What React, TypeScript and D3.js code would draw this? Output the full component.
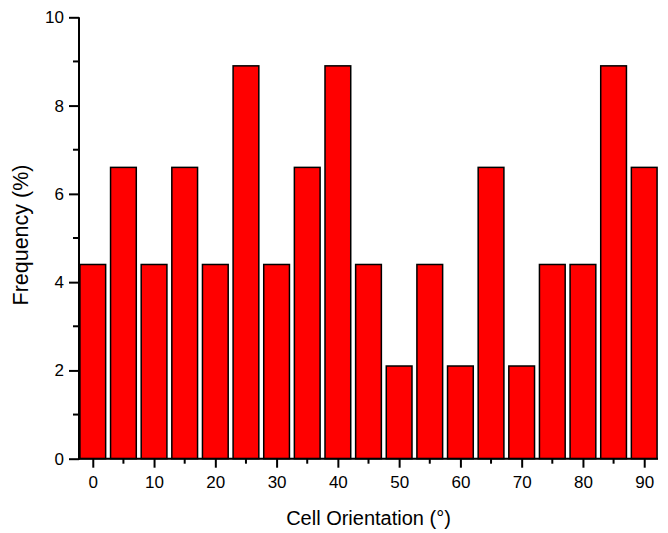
import React, { useRef, useEffect } from 'react';
import * as d3 from 'd3';

// cell orientation bins (degrees) and their frequency (%)
const angles = [0, 5, 10, 15, 20, 25, 30, 35, 40, 45, 50, 55, 60, 65, 70, 75, 80, 85, 90];
const frequency = [4.4, 6.6, 4.4, 6.6, 4.4, 8.9, 4.4, 6.6, 8.9, 4.4, 2.1, 4.4, 2.1, 6.6, 2.1, 4.4, 4.4, 8.9, 6.6];
const xTicks = [0, 10, 20, 30, 40, 50, 60, 70, 80, 90];
const yTicks = [0, 2, 4, 6, 8, 10];

function App() {
  const svgRef = useRef<SVGSVGElement>(null);
  const width = 668;
  const height = 533;

  useEffect(() => {
    const root = d3.select(svgRef.current);
    root.selectAll('*').remove();

    const left = 79;
    const right = 658;
    const top = 17.3;
    const bottom = 458.7;
    const font = 'Liberation Sans, Arial, sans-serif';

    const x = d3.scaleLinear().domain([-2.25, 92.25]).range([left, right]);
    const y = d3.scaleLinear().domain([0, 10]).range([bottom, top]);
    const barW = x(4.2) - x(0);

    const data = angles.map((a, i) => ({ a, v: frequency[i] }));

    // bars
    root.append('g')
      .selectAll('rect')
      .data(data)
      .enter()
      .append('rect')
      .attr('x', d => x(d.a) - barW / 2)
      .attr('y', d => y(d.v))
      .attr('width', barW)
      .attr('height', d => bottom - y(d.v))
      .attr('fill', '#ff0000')
      .attr('stroke', '#000')
      .attr('stroke-width', 1.5);

    // x axis
    const xAxis = root.append('g').attr('transform', `translate(0,${bottom})`);
    xAxis.call(
      d3.axisBottom(x).tickValues(xTicks).tickSize(9).tickPadding(8).tickFormat(d3.format('d'))
    );
    xAxis.select('.domain').attr('d', `M${left},0H${right}`).attr('stroke-width', 2);
    xAxis.selectAll('.tick line').attr('stroke-width', 2);
    xAxis.selectAll('.tick text').style('font-family', font).style('font-size', '17px').attr('fill', '#000');
    xAxis.selectAll('.minor')
      .data(xTicks.slice(0, -1).map(t => t + 5))
      .enter()
      .append('line')
      .attr('class', 'minor')
      .attr('x1', d => x(d)).attr('x2', d => x(d))
      .attr('y1', 0).attr('y2', 5)
      .attr('stroke', '#000').attr('stroke-width', 2);

    // y axis
    const yAxis = root.append('g').attr('transform', `translate(${left},0)`);
    yAxis.call(d3.axisLeft(y).tickValues(yTicks).tickSize(10).tickPadding(5));
    yAxis.select('.domain').attr('d', `M0,${bottom + 1}V${top}`).attr('stroke-width', 2);
    yAxis.selectAll('.tick line').attr('stroke-width', 2);
    yAxis.selectAll('.tick text').style('font-family', font).style('font-size', '17px').attr('fill', '#000');
    yAxis.selectAll('.minor')
      .data([1, 3, 5, 7, 9])
      .enter()
      .append('line')
      .attr('class', 'minor')
      .attr('x1', 0).attr('x2', -6)
      .attr('y1', d => y(d)).attr('y2', d => y(d))
      .attr('stroke', '#000').attr('stroke-width', 2);

    // axis titles
    root.append('text')
      .attr('x', (left + right) / 2)
      .attr('y', 525)
      .attr('text-anchor', 'middle')
      .style('font-family', font)
      .style('font-size', '20px')
      .text('Cell Orientation (°)');

    root.append('text')
      .attr('transform', `translate(28,${(top + bottom) / 2 - 3}) rotate(-90)`)
      .attr('text-anchor', 'middle')
      .style('font-family', font)
      .style('font-size', '21.5px')
      .text('Frequency (%)');
  }, []);

  return (
    <svg
      ref={svgRef}
      width={width}
      height={height}
      style={{ position: 'absolute', left: 0, top: 0, background: '#fff' }}
    />
  );
}

export default App;
